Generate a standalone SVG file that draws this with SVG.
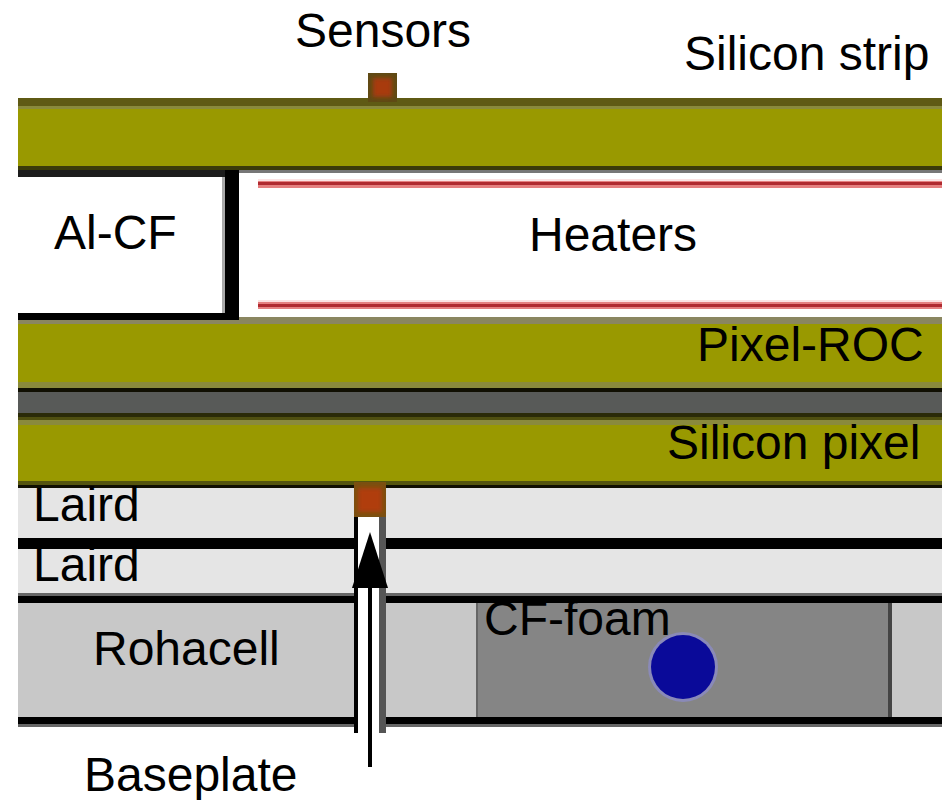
<svg xmlns="http://www.w3.org/2000/svg" width="948" height="800" viewBox="0 0 948 800">
<defs><filter id="soft" x="-30%" y="-30%" width="160%" height="160%"><feGaussianBlur stdDeviation="2"/></filter></defs>
<style>
text{font-family:"Liberation Sans",Arial,sans-serif;font-size:48px;fill:#000}
.olive{fill:#999900}.black{fill:#000}.edge{fill:#8a8a3c}.dark{fill:#5f5a14}.line{fill:#3a3a0a}
.lr{fill:#e5e5e5}.roh{fill:#c8c8c8}.red{fill:#e58080}.redc{fill:#b02a30}
</style>
<rect width="948" height="800" fill="#fff"/>
<g id="strip-layer">
<rect class="olive" x="18" y="98" width="924" height="68"/>
<rect class="dark" x="18" y="98" width="924" height="8"/>
<rect class="edge" x="18" y="106" width="924" height="3"/>
<rect class="line" x="18" y="166" width="924" height="4"/>
<rect fill="#777" x="239" y="170" width="703" height="3"/>
</g>
<g id="al-cf">
<rect fill="#1c1c1c" x="18" y="170" width="207" height="7"/>
<rect class="black" x="18" y="313" width="221" height="7"/>
<rect fill="#aaa" x="222" y="177" width="3" height="136"/>
<rect class="black" x="225" y="170" width="14" height="150"/>
</g>
<g id="heaters">
<rect fill="#fbe3e3" x="258" y="179" width="684" height="2"/>
<rect class="red" x="258" y="181" width="684" height="7"/>
<rect class="redc" x="258" y="182" width="684" height="3"/>
<rect fill="#fbe3e3" x="258" y="300" width="684" height="2"/>
<rect class="red" x="258" y="302" width="684" height="7"/>
<rect class="redc" x="258" y="304" width="684" height="3"/>
</g>
<g id="pixel-roc">
<rect fill="#8a8660" x="239" y="317" width="703" height="7"/>
<rect fill="#8a8660" x="18" y="320" width="221" height="4"/>
<rect class="olive" x="18" y="324" width="924" height="58"/>
<rect class="edge" x="18" y="382" width="924" height="6"/>
<rect fill="#100f02" x="18" y="388" width="924" height="4"/>
</g>
<g id="gap"><rect fill="#585a58" x="18" y="392" width="924" height="21"/></g>
<g id="silicon-pixel">
<rect fill="#2a2a08" x="18" y="413" width="924" height="4"/>
<rect fill="#4f4f10" x="18" y="417" width="924" height="3"/>
<rect class="edge" x="18" y="420" width="924" height="5"/>
<rect class="olive" x="18" y="425" width="924" height="56"/>
<rect fill="#55550f" x="18" y="481" width="924" height="4"/>
<rect fill="#100f02" x="18" y="485" width="924" height="3"/>
</g>
<g id="laird">
<rect class="lr" x="18" y="488" width="924" height="50"/>
<rect class="black" x="18" y="538" width="924" height="11"/>
<rect class="lr" x="18" y="549" width="924" height="44"/>
</g>
<g id="rohacell">
<rect fill="#666" x="18" y="593" width="924" height="3"/>
<rect class="black" x="18" y="596" width="924" height="7"/>
<rect class="roh" x="18" y="603" width="924" height="114"/>
<rect class="black" x="18" y="717" width="924" height="7"/>
<rect fill="#666" x="18" y="724" width="924" height="3"/>
</g>
<g id="cf-foam">
<rect fill="#858585" x="476" y="603" width="416" height="114"/>
<rect fill="#666" x="476" y="603" width="2" height="114"/>
<rect fill="#444" x="888" y="603" width="4" height="114"/>
<circle cx="683" cy="667" r="35" fill="#8a8ab8"/>
<circle cx="683" cy="667" r="32" fill="#0a0a99"/>
</g>
<g id="sensors">
<rect fill="#5f4a14" x="368" y="73" width="29" height="29"/>
<rect fill="#a83a08" x="373" y="78" width="19" height="19" filter="url(#soft)"/>
</g>
<g id="channel">
<rect fill="#fff" x="358" y="516" width="21" height="212"/>
<rect class="black" x="354" y="516" width="4" height="217"/>
<rect fill="#555" x="379" y="516" width="7" height="217"/>
<rect fill="#7a5010" x="354" y="482" width="32" height="35"/>
<rect fill="#b03c0c" x="358" y="488" width="24" height="24" filter="url(#soft)"/>
</g>
<g id="connectors">
<rect class="black" x="368" y="586" width="4" height="181"/>
<polygon class="black" points="370,532 352,588 388,588"/>
</g>
<g id="labels">
<text x="295" y="47">Sensors</text>
<text x="684" y="70">Silicon strip</text>
<text x="54" y="249">Al-CF</text>
<text x="529" y="251">Heaters</text>
<text x="697" y="361">Pixel-ROC</text>
<text x="667" y="459">Silicon pixel</text>
<text x="33" y="521">Laird</text>
<text x="33" y="581">Laird</text>
<text x="93" y="665">Rohacell</text>
<text x="484" y="635">CF-foam</text>
<text x="84" y="791">Baseplate</text>
</g>
</svg>
